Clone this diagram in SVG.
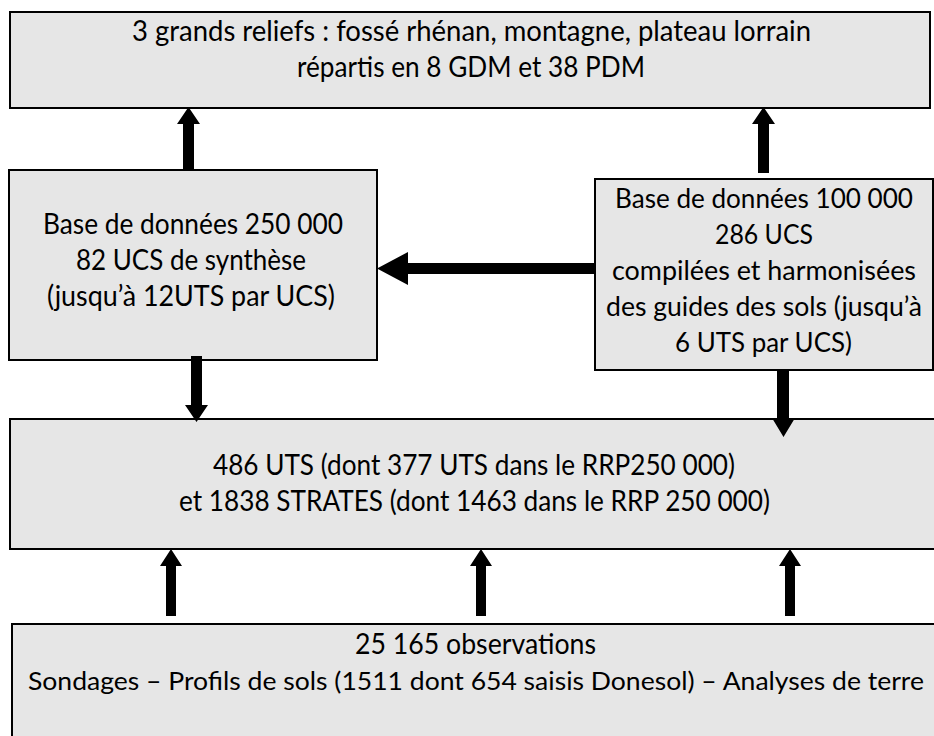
<svg xmlns="http://www.w3.org/2000/svg" width="934" height="736" viewBox="0 0 934 736">
<style>
.box{fill:#e6e6e6;stroke:#000;stroke-width:2}
.t{font-family:Lato,"Liberation Sans",sans-serif;font-size:29px;fill:#000;text-anchor:middle}
.s{font-size:27px}
.xs{font-size:25px}
.arr{fill:#000;stroke:none}
</style>
<rect width="934" height="736" fill="#fff"/>
<g id="reliefs">
<rect class="box" x="10" y="12" width="920" height="96"/>
<text class="t" x="471.5" y="41" textLength="679" lengthAdjust="spacingAndGlyphs">3 grands reliefs : fossé rhénan, montagne, plateau lorrain</text>
<text class="t" x="471" y="77" textLength="348" lengthAdjust="spacingAndGlyphs">répartis en 8 GDM et 38 PDM</text>
</g>
<g id="bd250">
<rect class="box" x="9" y="170" width="368" height="190"/>
<text class="t" x="193" y="234" textLength="300" lengthAdjust="spacingAndGlyphs">Base de données 250 000</text>
<text class="t" x="191" y="270" textLength="230" lengthAdjust="spacingAndGlyphs">82 UCS de synthèse</text>
<text class="t" x="191" y="306" textLength="288" lengthAdjust="spacingAndGlyphs">(jusqu’à 12UTS par UCS)</text>
</g>
<g id="bd100">
<rect class="box" x="595" y="179" width="338" height="191"/>
<text class="t s" x="764" y="208" textLength="298" lengthAdjust="spacingAndGlyphs">Base de données 100 000</text>
<text class="t s" x="764" y="244" textLength="98" lengthAdjust="spacingAndGlyphs">286 UCS</text>
<text class="t s" x="764" y="280" textLength="304" lengthAdjust="spacingAndGlyphs">compilées et harmonisées</text>
<text class="t s" x="764" y="316" textLength="316" lengthAdjust="spacingAndGlyphs">des guides des sols (jusqu’à</text>
<text class="t s" x="763.5" y="352" textLength="177" lengthAdjust="spacingAndGlyphs">6 UTS par UCS)</text>
</g>
<g id="uts">
<rect class="box" x="10" y="419" width="940" height="130"/>
<text class="t" x="474" y="475" textLength="522" lengthAdjust="spacingAndGlyphs">486 UTS (dont 377 UTS dans le RRP250 000)</text>
<text class="t" x="474.5" y="511" textLength="591" lengthAdjust="spacingAndGlyphs">et 1838 STRATES (dont 1463 dans le RRP 250 000)</text>
</g>
<g id="observations">
<rect class="box" x="12" y="624" width="940" height="130"/>
<text class="t" x="475.5" y="654" textLength="241" lengthAdjust="spacingAndGlyphs">25 165 observations</text>
<text class="t xs" x="476" y="690" textLength="896" lengthAdjust="spacingAndGlyphs">Sondages – Profils de sols (1511 dont 654 saisis Donesol) – Analyses de terre</text>
</g>
<g id="connectors">
<polygon class="arr" points="183,171 183,124 177,124 188.5,107 200,124 194,124 194,171"/>
<polygon class="arr" points="758,173 758,124 752,124 763.5,107 775,124 769,124 769,173"/>
<polygon class="arr" points="595,263 408,263 408,252 377,268.5 408,285 408,274 595,274"/>
<polygon class="arr" points="191,356 191,405 185,405 196.5,422 208,405 202,405 202,356"/>
<polygon class="arr" points="777,369 777,418 772,418 783.5,437 795,418 789,418 789,369"/>
<polygon class="arr" points="166,616 166,566 160,566 171,549 182,566 176,566 176,616"/>
<polygon class="arr" points="476,616 476,566 470,566 481,549 492,566 486,566 486,616"/>
<polygon class="arr" points="785,616 785,566 779,566 790,549 801,566 795,566 795,616"/>
</g>
</svg>
